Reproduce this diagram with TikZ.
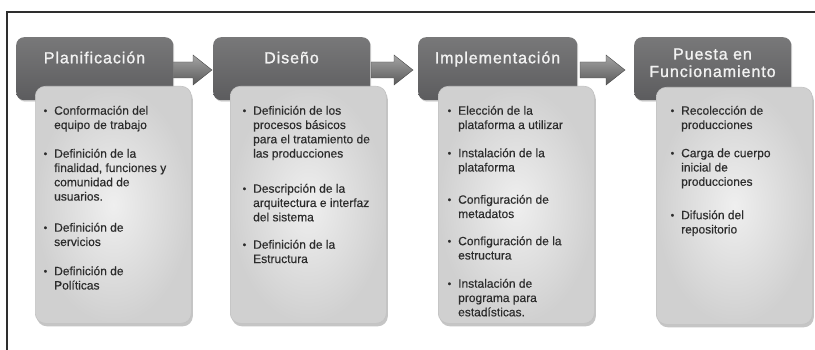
\documentclass[tikz,border=0pt]{standalone}
\usepackage{fontspec}
\setmainfont[FakeBold=0.35]{Liberation Sans}
\newfontfamily\hdrfont[LetterSpace=6,FakeBold=1.2]{Liberation Sans}
\usetikzlibrary{shadows}
\definecolor{hdrtop}{HTML}{787879}
\definecolor{hdrbot}{HTML}{5C5C5E}
\definecolor{boxin}{HTML}{EFEFEF}
\definecolor{boxout}{HTML}{D0D0D0}
\definecolor{boxedge}{HTML}{C2C2C2}
\definecolor{txtgray}{HTML}{2C2C2C}
\definecolor{hdrtxt}{HTML}{F2F2F2}
\definecolor{arrtop}{HTML}{A4A4A4}
\definecolor{arrbot}{HTML}{5A5A5A}
\definecolor{framec}{HTML}{2E2E2E}
\newcommand{\bul}{\llap{\raisebox{0.6pt}{\fontsize{10}{10}\selectfont\textbullet}\hspace{7pt}}\rule{0pt}{11pt}}
\begin{document}
\begin{tikzpicture}[x=1pt,y=-1pt,
  hdrbox/.style={anchor=north west, inner sep=0pt, minimum width=157pt, minimum height=63pt,
    rounded corners=8pt, top color=hdrtop, bottom color=hdrbot,
    drop shadow={shadow xshift=1pt, shadow yshift=-1.5pt, opacity=0.35}},
  hdrtext/.style={inner sep=0pt, anchor=base, align=center, text=hdrtxt,
    font=\hdrfont\fontsize{16}{17.4}\selectfont},
  cbox/.style={anchor=north west, inner sep=0pt, minimum width=156pt, minimum height=237pt,
    rounded corners=10pt, inner color=boxin, outer color=boxout, draw=boxedge, line width=0.6pt,
    drop shadow={shadow xshift=1.5pt, shadow yshift=-3pt, opacity=0.45}},
  itm/.style={anchor=north west, inner sep=0pt, align=left, text=txtgray,
    font=\fontsize{12}{14.3}\selectfont},
  flow/.style={top color=arrtop, bottom color=arrbot, draw=arrbot!80!black, line width=0.4pt},
  framel/.style={draw=framec, line width=1.3pt}
]
\useasboundingbox (0,0) rectangle (815,350);
\fill[white] (0,0) rectangle (815,350);
\draw[framel] (7,350) -- (7,12) -- (815,12);

% arrows
\newcommand{\flowarrow}[3]{%
  \path[flow] (#1,#3-8) -- (#2-19,#3-8) -- (#2-19,#3-15) -- (#2,#3) -- (#2-19,#3+15) -- (#2-19,#3+8) -- (#1,#3+8) -- cycle;}
\flowarrow{171}{212}{70}
\flowarrow{371}{413}{70}
\flowarrow{580}{625}{70}

% headers
\node[hdrbox] (h1) at (16,37) {};
\node[hdrbox] (h2) at (213,37) {};
\node[hdrbox, minimum width=159pt] (h3) at (418,37) {};
\node[hdrbox] (h4) at (634,37) {};
\node[hdrtext] (t1) at (94.5,63.3) {Planificación};
\node[hdrtext] (t2) at (291.5,63.3) {Diseño};
\node[hdrtext] (t3) at (497.5,63.3) {Implementación};
\node[hdrtext] (t4a) at (712.5,59.5) {Puesta en};
\node[hdrtext] (t4b) at (712.5,77) {Funcionamiento};

% content boxes
\node[cbox] (c1) at (35,86) {};
\node[cbox] (c2) at (230,86) {};
\node[cbox] (c3) at (438,86) {};
\node[cbox] (c4) at (656,87) {};

% Planificacion items
\node[itm] (p1) at (54,103.5) {\bul Conformación del\\equipo de trabajo};
\node[itm] (p2) at (54,146.5) {\bul Definición de la\\finalidad, funciones y\\comunidad de\\usuarios.};
\node[itm] (p3) at (54,220.5) {\bul Definición de\\servicios};
\node[itm] (p4) at (54,264) {\bul Definición de\\Políticas};

% Diseno items
\node[itm] (d1) at (253,103.5) {\bul Definición de los\\procesos básicos\\para el tratamiento de\\las producciones};
\node[itm] (d2) at (253,181.5) {\bul Descripción de la\\arquitectura e interfaz\\del sistema};
\node[itm] (d3) at (253,237.5) {\bul Definición de la\\Estructura};

% Implementacion items
\node[itm] (i1) at (458,103.5) {\bul Elección de la\\plataforma a utilizar};
\node[itm] (i2) at (458,146) {\bul Instalación de la\\plataforma};
\node[itm] (i3) at (458,192.5) {\bul Configuración de\\metadatos};
\node[itm] (i4) at (458,234) {\bul Configuración de la\\estructura};
\node[itm] (i5) at (458,276.5) {\bul Instalación de\\programa para\\estadísticas.};

% Puesta items
\node[itm] (f1) at (681,103.5) {\bul Recolección de\\producciones};
\node[itm] (f2) at (681,146) {\bul Carga de cuerpo\\inicial de\\producciones};
\node[itm] (f3) at (681,208) {\bul Difusión del\\repositorio};
\end{tikzpicture}
\end{document}
